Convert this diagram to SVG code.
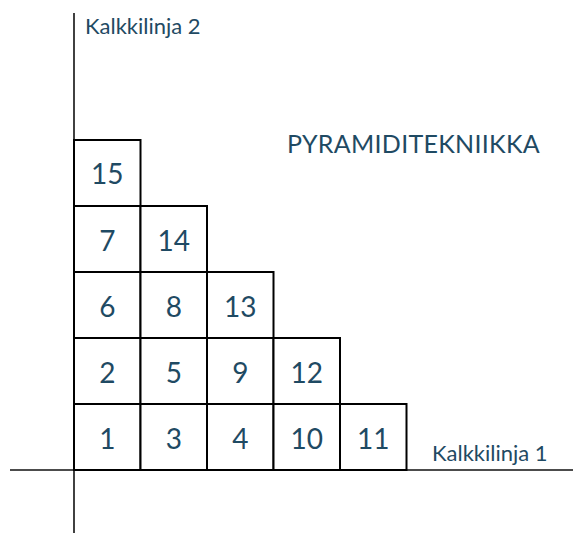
<svg xmlns="http://www.w3.org/2000/svg" width="573" height="533" viewBox="0 0 573 533">
<style>
.cell{fill:#fff;stroke:#000;stroke-width:2}
.axis{stroke:#111;stroke-width:1.6;fill:none}
.num{font-family:Lato,"Open Sans","Liberation Sans",sans-serif;font-size:28px;fill:#1f4a63;text-anchor:middle}
.lbl{font-family:Lato,"Open Sans","Liberation Sans",sans-serif;font-size:22px;fill:#1f4a63}
.title{font-family:Lato,"Open Sans","Liberation Sans",sans-serif;font-size:25px;letter-spacing:0.3px;fill:#1f4a63}
</style>
<rect width="573" height="533" fill="#fff"/>
<g id="connectors">
<line class="axis" x1="74" y1="13" x2="74" y2="533"/>
<line class="axis" x1="10" y1="470" x2="573" y2="470"/>
</g>
<g id="c1"><rect class="cell" x="74" y="404" width="66.5" height="66"/><text class="num" x="107.3" y="449">1</text></g>
<g id="c3"><rect class="cell" x="140.5" y="404" width="66.5" height="66"/><text class="num" x="173.8" y="449">3</text></g>
<g id="c4"><rect class="cell" x="207" y="404" width="66.5" height="66"/><text class="num" x="240.3" y="449">4</text></g>
<g id="c10"><rect class="cell" x="273.5" y="404" width="66.5" height="66"/><text class="num" x="306.8" y="449">10</text></g>
<g id="c11"><rect class="cell" x="340" y="404" width="66.5" height="66"/><text class="num" x="373.3" y="449">11</text></g>
<g id="c2"><rect class="cell" x="74" y="338" width="66.5" height="66"/><text class="num" x="107.3" y="383">2</text></g>
<g id="c5"><rect class="cell" x="140.5" y="338" width="66.5" height="66"/><text class="num" x="173.8" y="383">5</text></g>
<g id="c9"><rect class="cell" x="207" y="338" width="66.5" height="66"/><text class="num" x="240.3" y="383">9</text></g>
<g id="c12"><rect class="cell" x="273.5" y="338" width="66.5" height="66"/><text class="num" x="306.8" y="383">12</text></g>
<g id="c6"><rect class="cell" x="74" y="272" width="66.5" height="66"/><text class="num" x="107.3" y="317">6</text></g>
<g id="c8"><rect class="cell" x="140.5" y="272" width="66.5" height="66"/><text class="num" x="173.8" y="317">8</text></g>
<g id="c13"><rect class="cell" x="207" y="272" width="66.5" height="66"/><text class="num" x="240.3" y="317">13</text></g>
<g id="c7"><rect class="cell" x="74" y="206" width="66.5" height="66"/><text class="num" x="107.3" y="251">7</text></g>
<g id="c14"><rect class="cell" x="140.5" y="206" width="66.5" height="66"/><text class="num" x="173.8" y="251">14</text></g>
<g id="c15"><rect class="cell" x="74" y="140" width="66.5" height="66"/><text class="num" x="107.3" y="184">15</text></g>
<g id="labels">
<text class="lbl" x="85" y="34">Kalkkilinja 2</text>
<text class="lbl" x="432" y="461">Kalkkilinja 1</text>
<text class="title" x="287" y="153">PYRAMIDITEKNIIKKA</text>
</g>
</svg>
